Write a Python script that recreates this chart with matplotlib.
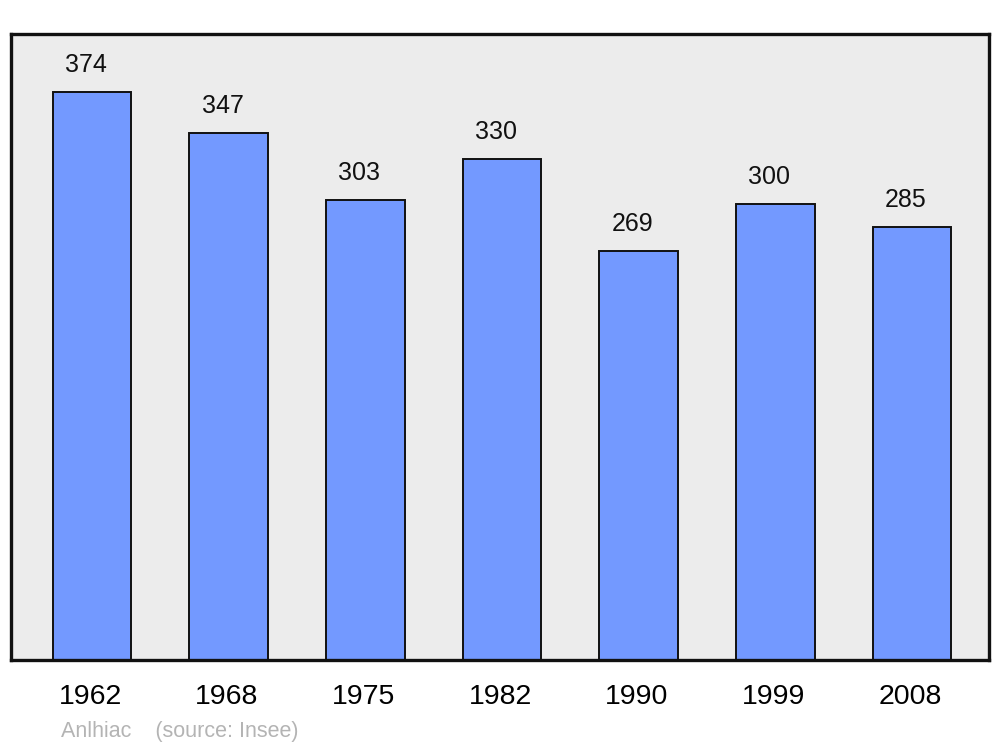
import matplotlib
matplotlib.use('Agg')
import matplotlib.pyplot as plt
import matplotlib.transforms as mtransforms

plt.rcParams['font.family'] = ['Liberation Sans', 'DejaVu Sans']

# 数据
years = ['1962', '1968', '1975', '1982', '1990', '1999', '2008']
population = [374, 347, 303, 330, 269, 300, 285]

fig = plt.figure(figsize=(10, 7.47), dpi=100)
ax = fig.add_axes([0.011, 87 / 747, 0.978, 626 / 747])
ax.set_facecolor('#ececec')

x = range(len(years))
bars = ax.bar(x, population, width=0.575, color='#7399ff',
              edgecolor='#111111', linewidth=1.4, zorder=2)

for xi, v in zip(x, population):
    ax.annotate(str(v), (xi, v), xytext=(-4.3, 19.5), textcoords='offset points',
                ha='center', va='center', fontsize=18, color='#111111')

ax.set_xlim(-0.593, 6.563)
ax.set_ylim(0, 412.2)
ax.set_xticks(list(x))
ax.set_xticklabels(years, fontsize=20.5)
ax.tick_params(axis='x', length=0, pad=17)
ax.set_yticks([])
shift = mtransforms.ScaledTranslation(-2 / 100, 0, fig.dpi_scale_trans)
for lab in ax.get_xticklabels():
    lab.set_transform(lab.get_transform() + shift)

for sp in ax.spines.values():
    sp.set_linewidth(2.4)
    sp.set_color('#111111')

fig.text(0.061, 1 - 731 / 747, 'Anlhiac    (source: Insee)', fontsize=15.5,
         color='#b4b4b4', ha='left', va='center')

fig.savefig('out.png', dpi=100)
